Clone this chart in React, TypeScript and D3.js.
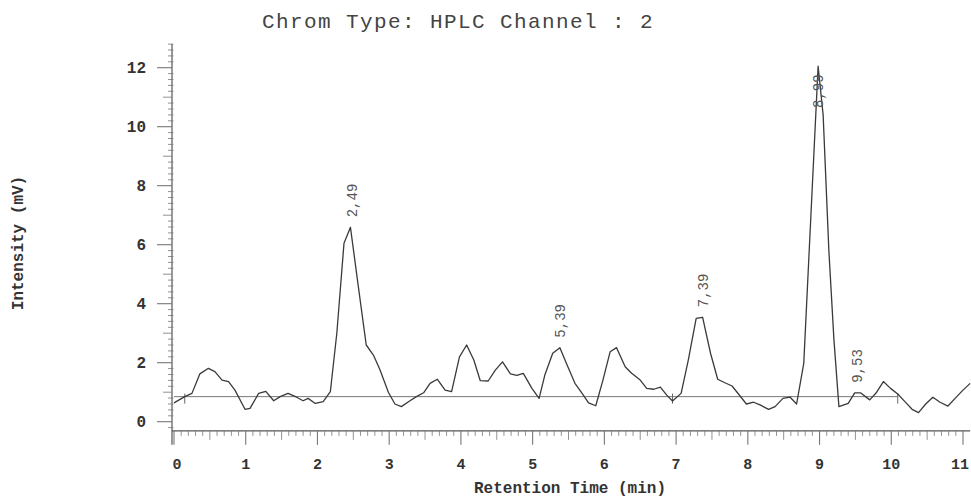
import React from "react";
import * as d3 from "d3";

// Retention time (min) and detector signal (mV)
const times = [
  0, 0.15, 0.25, 0.36, 0.48, 0.57, 0.67, 0.76, 0.85, 0.99, 1.06, 1.18, 1.28, 1.39, 1.48,
  1.59, 1.71, 1.8, 1.87, 1.97, 2.08, 2.18, 2.27, 2.37, 2.46, 2.57, 2.68, 2.78, 2.87, 2.99,
  3.08, 3.17, 3.29, 3.38, 3.48, 3.57, 3.67, 3.78, 3.87, 3.98, 4.08, 4.18, 4.27, 4.38, 4.48,
  4.58, 4.69, 4.78, 4.87, 4.99, 5.09, 5.17, 5.28, 5.38, 5.47, 5.59, 5.69, 5.78, 5.88, 5.98,
  6.08, 6.17, 6.29, 6.38, 6.5, 6.59, 6.69, 6.78, 6.87, 6.95, 7.07, 7.17, 7.28, 7.37, 7.48,
  7.58, 7.68, 7.78, 7.87, 7.98, 8.08, 8.17, 8.29, 8.38, 8.49, 8.59, 8.68, 8.78, 8.98, 9.05,
  9.13, 9.2, 9.27, 9.4, 9.49, 9.57, 9.7, 9.79, 9.89, 9.99, 10.09, 10.19, 10.29, 10.38, 10.48,
  10.58, 10.68, 10.79, 10.89, 11.0, 11.1,
];
const signal = [
  0.64, 0.85, 0.96, 1.62, 1.81, 1.7, 1.41, 1.36, 1.07, 0.42, 0.45, 0.96, 1.03, 0.71, 0.85,
  0.96, 0.83, 0.71, 0.79, 0.62, 0.68, 1.02, 3.0, 6.05, 6.59, 4.58, 2.6, 2.26, 1.77, 0.99,
  0.6, 0.51, 0.71, 0.85, 0.98, 1.3, 1.44, 1.07, 1.02, 2.2, 2.6, 2.09, 1.39, 1.38, 1.75,
  2.03, 1.62, 1.57, 1.64, 1.13, 0.79, 1.58, 2.32, 2.51, 1.98, 1.3, 0.96, 0.64, 0.54, 1.41,
  2.37, 2.51, 1.86, 1.64, 1.41, 1.13, 1.1, 1.17, 0.9, 0.7, 0.96, 2.09, 3.5, 3.54, 2.32,
  1.44, 1.32, 1.21, 0.94, 0.6, 0.66, 0.57, 0.42, 0.51, 0.79, 0.83, 0.6, 1.98, 12.05, 10.4,
  5.8, 2.8, 0.51, 0.62, 0.98, 0.98, 0.74, 0.98, 1.36, 1.13, 0.94, 0.68, 0.42, 0.31, 0.6,
  0.83, 0.66, 0.53, 0.79, 1.07, 1.3,
];

// Integrated peaks: retention time label and apex value
const peakTimes = [2.49, 5.39, 7.39, 8.99, 9.53];
const peakLabels = ["2,49", "5,39", "7,39", "8,99", "9,53"];
const peakApex = [6.59, 2.51, 3.54, 12.05, 0.98];

// Baseline drawn under the peaks, with its segment marks
const baselineEnd = 10.09;
const baselineLevel = 0.85;
const baselineMarks = [0.15, 6.95, 10.09];

const xTicks = [0, 1, 2, 3, 4, 5, 6, 7, 8, 9, 10, 11];
const yTicks = [0, 2, 4, 6, 8, 10, 12];

const W = 971;
const H = 503;
const mono = "'Liberation Mono', 'DejaVu Sans Mono', monospace";

export default function App() {
  const x = d3.scaleLinear().domain([0, 11]).range([174, 963]);
  const y = d3.scaleLinear().domain([0, 12]).range([421.7, 67.7]);
  const axisY = y(-0.31);
  const axisX = 172;
  const yTop = y(12.8);

  const pts: [number, number][] = times.map((t, i) => [t, signal[i]]);
  const line = d3
    .line<[number, number]>()
    .x((d) => x(d[0]))
    .y((d) => y(d[1]));

  // minor ticks on x every 0.1 min
  const xMinor = d3.range(0, 111).map((i) => i / 10);
  // minor ticks on y every 0.2 mV
  const yMinor = d3.range(-1, 65).map((i) => i / 5);

  // nudge the end labels so they stay inside the frame
  const labelShift = (t: number) => (t === 0 ? 3 : t === 11 ? -3 : 0);

  return (
    <svg width={W} height={H} style={{ position: "absolute", left: 0, top: 0, background: "#fff" }}>
      <rect x={0} y={0} width={W} height={H} fill="#fff" />
      <text
        x={458}
        y={28}
        fontFamily={mono}
        fontSize={21}
        letterSpacing={1.4}
        fill="#444"
        textAnchor="middle"
      >
        Chrom Type: HPLC Channel : 2
      </text>

      {/* y axis */}
      <line x1={axisX} x2={axisX} y1={yTop} y2={axisY + 14} stroke="#555" strokeWidth={1.2} />
      {yMinor.map((v, i) => {
        const r = Math.round(v * 5);
        const major = r % 10 === 0;
        const mid = !major && r % 5 === 0;
        const len = major ? 15 : mid ? 9 : 4;
        return (
          <line
            key={"ym" + i}
            x1={axisX - len}
            x2={axisX + (major || mid ? 0 : 1.5)}
            y1={y(v)}
            y2={y(v)}
            stroke="#777"
            strokeWidth={major ? 1.1 : 0.8}
          />
        );
      })}
      {yTicks.map((v) => (
        <text
          key={"yl" + v}
          x={146}
          y={y(v)}
          dy="0.36em"
          textAnchor="end"
          fontFamily={mono}
          fontSize={16}
          fontWeight="bold"
          fill="#333"
        >
          {v}
        </text>
      ))}

      {/* x axis */}
      <line x1={axisX} x2={x(11.1)} y1={axisY} y2={axisY} stroke="#555" strokeWidth={1.2} />
      {xMinor.map((t, i) => {
        const major = i % 10 === 0;
        const mid = !major && i % 5 === 0;
        const len = major ? 14 : mid ? 9 : 5;
        return (
          <line
            key={"xm" + i}
            x1={x(t)}
            x2={x(t)}
            y1={axisY}
            y2={axisY + len}
            stroke="#777"
            strokeWidth={major ? 1.1 : 0.8}
          />
        );
      })}
      {xTicks.map((t) => (
        <text
          key={"xl" + t}
          x={x(t) + labelShift(t)}
          y={464}
          dy="0.36em"
          textAnchor="middle"
          fontFamily={mono}
          fontSize={15}
          fontWeight="bold"
          fill="#333"
        >
          {t}
        </text>
      ))}

      <text
        x={570}
        y={493}
        textAnchor="middle"
        fontFamily={mono}
        fontWeight="bold"
        fontSize={16}
        fill="#333"
      >
        Retention Time (min)
      </text>
      <text
        transform="translate(23,243) rotate(-90)"
        textAnchor="middle"
        fontFamily={mono}
        fontWeight="bold"
        fontSize={16}
        fill="#333"
      >
        Intensity (mV)
      </text>

      {/* baseline */}
      <line
        x1={x(0)}
        x2={x(baselineEnd)}
        y1={y(baselineLevel)}
        y2={y(baselineLevel)}
        stroke="#777"
        strokeWidth={1}
      />
      {baselineMarks.map((t) => (
        <line
          key={"bm" + t}
          x1={x(t)}
          x2={x(t)}
          y1={y(baselineLevel) - 3}
          y2={y(baselineLevel) + 7}
          stroke="#666"
          strokeWidth={1}
        />
      ))}

      {/* chromatogram trace */}
      <path d={line(pts) || ""} fill="none" stroke="#3a3a3a" strokeWidth={1.3} strokeLinejoin="round" />

      {/* peak labels */}
      {peakTimes.map((t, i) => {
        const yy = Math.max(y(peakApex[i]) - 10, 108);
        return (
          <text
            key={"pk" + i}
            transform={`translate(${x(t) + 4},${yy}) rotate(-90)`}
            fontFamily={mono}
            fontSize={14}
            fill="#555"
            textAnchor="start"
          >
            {peakLabels[i]}
          </text>
        );
      })}
    </svg>
  );
}
